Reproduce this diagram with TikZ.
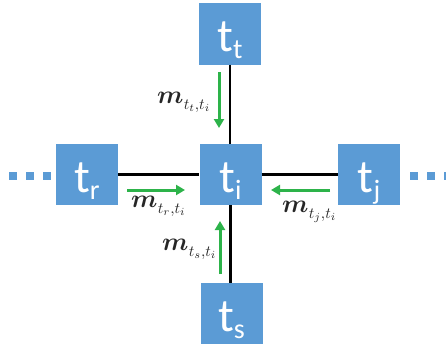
\documentclass[tikz,border=0pt]{standalone}
\usepackage{graphicx}
\usepackage{amsmath}
\usepackage{fontspec}
\setmainfont{Carlito}
\usetikzlibrary{arrows.meta}
\definecolor{boxblue}{HTML}{5B9BD5}
\definecolor{arrgreen}{HTML}{2DB34A}
\newcommand{\tlab}[1]{\raisebox{0pt}[36pt][0pt]{\fontsize{47}{47}\selectfont t\raisebox{-7pt}{\fontsize{28}{28}\selectfont #1}}}
\newcommand{\mlab}[2]{\scalebox{2.55}{$\boldsymbol{m}$}\kern0.3pt\raisebox{-6pt}{\scalebox{1.55}{$t_{#1}{,}t_{#2}$}}}
\tikzset{
  tbox/.style={fill=boxblue, text=white, minimum width=62pt, minimum height=61pt, inner sep=0pt},
  link/.style={line width=2.4pt, black},
  msg/.style={line width=3pt, arrgreen, -{Triangle[length=9pt,width=10pt]}},
  dotline/.style={line width=8pt, boxblue, dash pattern=on 8pt off 9pt},
  mtext/.style={anchor=base west, inner sep=0pt, text=black!85}
}
\begin{document}
\begin{tikzpicture}[x=1pt,y=-1pt]
\useasboundingbox (0,0) rectangle (446,345);
\node[tbox] (tt) at (230,34) {\tlab{t}};
\node[tbox] (ti) at (230.5,174.5) {\tlab{i}};
\node[tbox] (tr) at (87,174.5) {\tlab{r}};
\node[tbox] (tj) at (369,174.5) {\tlab{j}};
\node[tbox] (ts) at (231.5,313.5) {\tlab{s}};
\draw[link] (tt.south) -- (tt.south |- ti.north);
\draw[link] (ts.north -| ti.south) -- (ti.south);
\draw[link] (tr.east) -- (ti.west);
\draw[link] (ti.east) -- (tj.west);
% dotted continuations
\coordinate (dl1) at (9,176);
\coordinate (dl2) at (51,176);
\coordinate (dr1) at (410,176);
\coordinate (dr2) at (452,176);
\draw[dotline] (dl1) -- (dl2);
\draw[dotline] (dr1) -- (dr2);
% message arrows
\coordinate (a1s) at (219,72);
\coordinate (a1e) at (219,128);
\coordinate (a2s) at (220,274);
\coordinate (a2e) at (220,221);
\coordinate (a3s) at (127,190);
\coordinate (a3e) at (185,190);
\coordinate (a4s) at (330,190);
\coordinate (a4e) at (271,190);
\draw[msg] (a1s) -- (a1e);
\draw[msg] (a2s) -- (a2e);
\draw[msg] (a3s) -- (a3e);
\draw[msg] (a4s) -- (a4e);
% labels
\node[mtext] (mt) at (157,103) {\mlab{t}{i}};
\node[mtext] (mr) at (131,207) {\mlab{r}{i}};
\node[mtext] (mj) at (282,212) {\mlab{j}{i}};
\node[mtext] (ms) at (162,250) {\mlab{s}{i}};
\end{tikzpicture}
\end{document}
